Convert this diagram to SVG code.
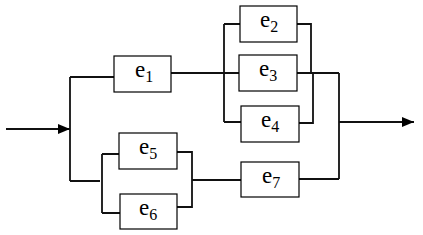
<svg xmlns="http://www.w3.org/2000/svg" width="423" height="235" viewBox="0 0 423 235">
<style>
.box{fill:#fff;stroke:#000;stroke-width:1.2}
.ln{fill:none;stroke:#111;stroke-width:1.8}
.lb{font-family:"Liberation Serif","Times New Roman",serif;font-size:23px;fill:#000}
.sb{font-size:16px}
</style>
<defs>
<marker id="ah" markerWidth="12" markerHeight="10" refX="12" refY="5" orient="auto" markerUnits="userSpaceOnUse">
<path d="M0,0 L12,5 L0,10 Z" fill="#000"/>
</marker>
</defs>
<g id="connectors">
<path class="ln" d="M6,129 H70" marker-end="url(#ah)"/>
<path class="ln" d="M70,77 V181 M70,77 H114 M70,181 H100"/>
<path class="ln" d="M171,73 H239 M224,24 V122 M224,24 H240 M224,122 H241"/>
<path class="ln" d="M297,24 H311 V73 M297,73 H339 M299,123 H313 V73 M339,73 V179 M299,179 H339"/>
<path class="ln" d="M339,122 H414" marker-end="url(#ah)"/>
<path class="ln" d="M102,154 V213 M102,154 H119 M102,213 H120 M177,152 H192 V207 H177 M192,180 H241"/>
</g>
<g id="e1"><rect class="box" x="114" y="56" width="57" height="36"/><text class="lb" x="135" y="77">e<tspan class="sb" dy="5">1</tspan></text></g>
<g id="e2"><rect class="box" x="240" y="6" width="57" height="36"/><text class="lb" x="260" y="27">e<tspan class="sb" dy="5">2</tspan></text></g>
<g id="e3"><rect class="box" x="239" y="55" width="58" height="36"/><text class="lb" x="259" y="76">e<tspan class="sb" dy="5">3</tspan></text></g>
<g id="e4"><rect class="box" x="241" y="106" width="58" height="36"/><text class="lb" x="261" y="127">e<tspan class="sb" dy="5">4</tspan></text></g>
<g id="e5"><rect class="box" x="119" y="133" width="58" height="36"/><text class="lb" x="139" y="154">e<tspan class="sb" dy="5">5</tspan></text></g>
<g id="e6"><rect class="box" x="120" y="194" width="57" height="35"/><text class="lb" x="139" y="215">e<tspan class="sb" dy="5">6</tspan></text></g>
<g id="e7"><rect class="box" x="241" y="162" width="58" height="35"/><text class="lb" x="262" y="183">e<tspan class="sb" dy="5">7</tspan></text></g>
</svg>
